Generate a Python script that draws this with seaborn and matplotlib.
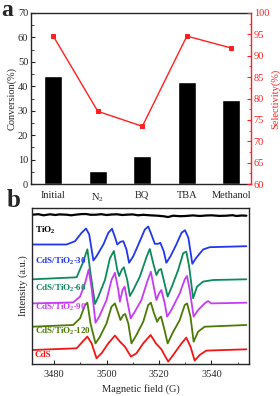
import matplotlib

matplotlib.use("Agg")
import matplotlib.pyplot as plt
import numpy as np
import seaborn as sns
from matplotlib.ticker import MultipleLocator

# ---- panel a: scavenger experiment ----
scavengers = ["Initial", "N$_2$", "BQ", "TBA", "Methanol"]
conversion = [44.2, 5.3, 11.5, 41.8, 34.2]
selectivity = [94.6, 77.0, 73.5, 94.6, 91.8]

# ---- panel b: EPR spectra (field in G, intensity relative to own baseline) ----
tio2_field = [3471.8, 3474.0, 3476.0, 3478.5, 3480.5, 3482.0, 3484.8, 3486.5, 3488.5, 3490.5,
              3492.2, 3494.0, 3496.0, 3498.0, 3500.0, 3502.0, 3504.0, 3506.0, 3507.6, 3510.0,
              3512.0, 3514.0, 3516.5, 3519.5, 3521.8, 3523.5, 3525.4, 3528.0, 3530.0, 3533.0,
              3535.5, 3538.0, 3540.0, 3543.0, 3545.7, 3548.0, 3549.5, 3551.5, 3553.3]
tio2_int = [0.3, 0.8, -0.3, 0.7, 0.0, 0.6, 0.3, -0.3, 0.4, 0.9,
            1.0, 0.2, 0.3, 0.8, 0.0, 0.5, 0.7, 0.0, 0.3, 0.6,
            -0.3, 0.2, -0.3, -0.7, -1.3, -2.0, -0.7, -1.2, -1.0, -0.4,
            -1.0, -0.5, -0.3, -0.9, -0.7, -0.2, -1.0, -0.5, -0.7]

cds30_field = [3471.8, 3484.8, 3488.0, 3490.5, 3492.2, 3493.4, 3495.0, 3496.2, 3498.8, 3500.7,
               3502.1, 3503.3, 3504.1, 3505.3, 3506.4, 3507.6, 3508.6, 3510.2, 3512.7, 3514.6,
               3515.9, 3517.1, 3518.4, 3519.7, 3520.5, 3521.8, 3522.8, 3524.4, 3526.6, 3528.6,
               3529.9, 3531.2, 3532.7, 3534.2, 3536.8, 3539.3, 3553.3]
cds30_int = [1.0, 1.0, 4.3, 12.7, 17.0, 11.0, -15.0, -10.7, 1.0, 12.7,
             16.7, 7.7, 1.0, 3.7, 4.3, -4.0, -17.3, -10.7, 4.3, 16.0,
             19.0, 11.0, 1.7, 1.7, 2.7, -5.7, -17.3, -10.7, 1.0, 12.7,
             15.3, 7.7, -18.3, -12.3, -4.0, -1.7, -0.7]

cds60_field = [3471.8, 3488.6, 3490.9, 3492.7, 3493.9, 3495.6, 3496.9, 3499.4, 3501.3, 3502.8,
               3504.1, 3504.8, 3505.9, 3506.6, 3507.9, 3508.9, 3510.2, 3512.7, 3515.3, 3516.5,
               3517.8, 3519.0, 3520.0, 3520.8, 3522.1, 3523.3, 3524.9, 3527.3, 3529.2, 3530.4,
               3531.5, 3533.0, 3534.5, 3536.8, 3540.6, 3553.3]
cds60_int = [0.0, 2.0, 16.0, 30.0, 6.0, -24.7, -17.3, -0.7, 21.0, 28.3,
             9.3, 3.3, 10.0, 12.0, -0.7, -16.7, -10.7, 2.7, 22.7, 30.3,
             16.0, 4.3, 9.3, 10.3, -4.0, -17.3, -7.3, 9.3, 26.0, 27.7,
             12.7, -19.0, -7.3, -2.3, -0.7, 0.0]

cds90_field = [3471.8, 3487.3, 3489.9, 3491.8, 3493.2, 3494.4, 3495.8, 3497.2, 3500.0, 3501.9,
               3503.2, 3504.5, 3505.1, 3506.1, 3506.9, 3508.1, 3509.2, 3510.4, 3513.3, 3515.5,
               3516.9, 3518.0, 3519.0, 3520.0, 3520.9, 3522.2, 3523.1, 3524.7, 3527.9, 3529.8,
               3530.7, 3531.7, 3533.2, 3534.9, 3537.4, 3538.7, 3539.9, 3553.3]
cds90_int = [-0.7, 0.3, 6.0, 19.3, 33.3, 12.7, -20.0, -14.0, 2.7, 22.7,
             30.0, 12.7, 1.0, 12.7, 16.0, -0.7, -15.7, -10.7, 2.7, 21.0,
             31.0, 16.0, 2.7, 9.3, 12.7, -0.7, -14.0, -7.3, 9.3, 23.3,
             26.7, 12.7, -14.0, -7.3, -0.7, 1.7, -0.7, 0.0]

cds120_field = [3471.8, 3487.3, 3489.9, 3491.8, 3492.7, 3493.9, 3495.8, 3497.5, 3500.0, 3501.9,
                3503.2, 3504.5, 3505.3, 3506.4, 3507.1, 3508.3, 3509.5, 3511.4, 3514.0, 3515.9,
                3516.9, 3518.1, 3519.3, 3520.0, 3520.8, 3522.1, 3523.3, 3525.1, 3527.9, 3529.8,
                3530.7, 3532.0, 3533.2, 3534.9, 3537.4, 3553.3]
cds120_int = [-1.0, 0.7, 7.3, 20.7, 23.0, 2.3, -17.7, -11.0, 2.3, 19.0,
              22.3, 12.3, 5.7, 10.7, 11.7, 2.3, -17.7, -9.3, 4.0, 20.7,
              23.0, 12.3, 4.0, 7.3, 9.0, -4.3, -17.7, -7.7, 5.7, 20.7,
              22.3, 9.0, -16.0, -6.0, -1.0, 0.7]

cds_field = [3471.8, 3488.6, 3490.9, 3492.7, 3494.3, 3496.2, 3498.1, 3500.7, 3503.2, 3505.1,
             3507.0, 3509.3, 3511.4, 3514.0, 3516.8, 3518.8, 3520.9, 3523.5, 3525.4, 3528.6,
             3530.4, 3532.0, 3533.6, 3535.5, 3538.0, 3553.3]
cds_int = [-0.7, 1.0, 7.7, 12.7, 6.0, -9.0, -4.0, 6.0, 13.7, 7.7,
           2.7, -7.3, -4.0, 6.0, 14.3, 6.0, 0.0, -12.3, -5.7, 6.0,
           11.7, 2.7, -11.3, -5.7, -1.3, 0.0]

sample_names = ["TiO$_\\mathbf{2}$", "CdS/TiO$_\\mathbf{2}$-30", "CdS/TiO$_\\mathbf{2}$-60",
                "CdS/TiO$_\\mathbf{2}$-90", "CdS/TiO$_\\mathbf{2}$-120", "CdS"]
fields = [tio2_field, cds30_field, cds60_field, cds90_field, cds120_field, cds_field]
intensities = [tio2_int, cds30_int, cds60_int, cds90_int, cds120_int, cds_int]

# stacking (baseline height of each trace, in figure pixels) and label heights
baselines = [215.0, 245.5, 279.3, 302.7, 325.7, 349.3]
label_rows = [230.7, 261.0, 288.0, 307.7, 331.7, 355.0]
colors = ["black", "#2236f0", "#0c8a5c", "#c63cf2", "#4b7a06", "#f51414"]
line_widths = [1.6, 1.3, 1.3, 1.3, 1.3, 1.3]
red = "#ff2020"

sns.set_style("ticks")
plt.rcParams["font.family"] = ["Liberation Serif", "DejaVu Serif"]
plt.rcParams["mathtext.fontset"] = "custom"
plt.rcParams["mathtext.rm"] = "Liberation Serif"
plt.rcParams["mathtext.bf"] = "Liberation Serif:bold"
plt.rcParams["axes.linewidth"] = 1.0

W, H = 280, 396
fig = plt.figure(figsize=(W / 100, H / 100), dpi=100)

# ---------------- panel a ----------------
ax = fig.add_axes([31 / W, 1 - 184 / H, 220 / W, 171 / H])
sns.barplot(x=scavengers, y=conversion, color="black", saturation=1, width=0.4, ax=ax)
ax.set_ylim(0, 70)
ax.yaxis.set_major_locator(MultipleLocator(10))
ax.yaxis.set_minor_locator(MultipleLocator(5))
ax.tick_params(axis="y", which="both", direction="in", labelsize=7.5, pad=2)
ax.tick_params(axis="y", which="major", length=3)
ax.tick_params(axis="y", which="minor", length=1.8)
ax.tick_params(axis="x", length=0, labelsize=7.5, pad=5)
ax.set_ylabel("Conversion(%)", fontsize=7.5, labelpad=1)
ax.set_xlabel("")
ax.spines["right"].set_visible(False)

ax2 = ax.twinx()
sns.pointplot(x=scavengers, y=selectivity, color=red, markers="s", markersize=3.2,
              linewidth=1.0, ax=ax2)
ax2.set_ylim(60, 100)
ax2.yaxis.set_major_locator(MultipleLocator(5))
ax2.yaxis.set_minor_locator(MultipleLocator(2.5))
ax2.tick_params(axis="y", which="both", direction="in", colors=red, labelsize=7.5, pad=2)
ax2.tick_params(axis="y", which="major", length=3)
ax2.tick_params(axis="y", which="minor", length=1.8)
ax2.set_ylabel("Selectivity(%)", color=red, fontsize=7.5, labelpad=1)
ax2.spines["right"].set_color(red)
ax2.spines["right"].set_linewidth(1.0)
for side in ["left", "top", "bottom"]:
    ax2.spines[side].set_visible(False)
ax.set_xlim(-0.5, 4.44)
ax.set_xticks(range(len(scavengers)))
ax.set_xticklabels(scavengers)

# ---------------- panel b ----------------
axb = fig.add_axes([32 / W, 1 - 364 / H, 217 / W, 156 / H])
for name, fld, inten, base, lab_y, col, lw in zip(sample_names, fields, intensities,
                                                   baselines, label_rows, colors, line_widths):
    trace = np.array(inten) - base
    sns.lineplot(x=fld, y=trace, color=col, linewidth=lw, estimator=None, ax=axb,
                 solid_joinstyle="round")
    axb.text(3472.6, -lab_y, name, color=col, fontsize=6.5, fontweight="bold", va="center")

axb.set_xlim(3471.6, 3554.3)
axb.set_ylim(-364, -208)
axb.xaxis.set_major_locator(MultipleLocator(20))
axb.xaxis.set_minor_locator(MultipleLocator(10))
axb.tick_params(axis="x", which="both", direction="in", top=False, labelsize=7.5, pad=4)
axb.tick_params(axis="x", which="major", length=3)
axb.tick_params(axis="x", which="minor", length=1.8)
axb.set_yticks([])
axb.set_xlabel("Magnetic field (G)", fontsize=7.5, labelpad=4)
axb.set_ylabel("Intensity (a.u.)", fontsize=7.5, labelpad=3)

fig.text(1.5 / W, 1 - 16 / H, "a", fontsize=17, fontweight="bold", va="baseline")
fig.text(6.5 / W, 1 - 207 / H, "b", fontsize=18, fontweight="bold", va="baseline")

fig.savefig("out.png", dpi=100)
plt.close(fig)
